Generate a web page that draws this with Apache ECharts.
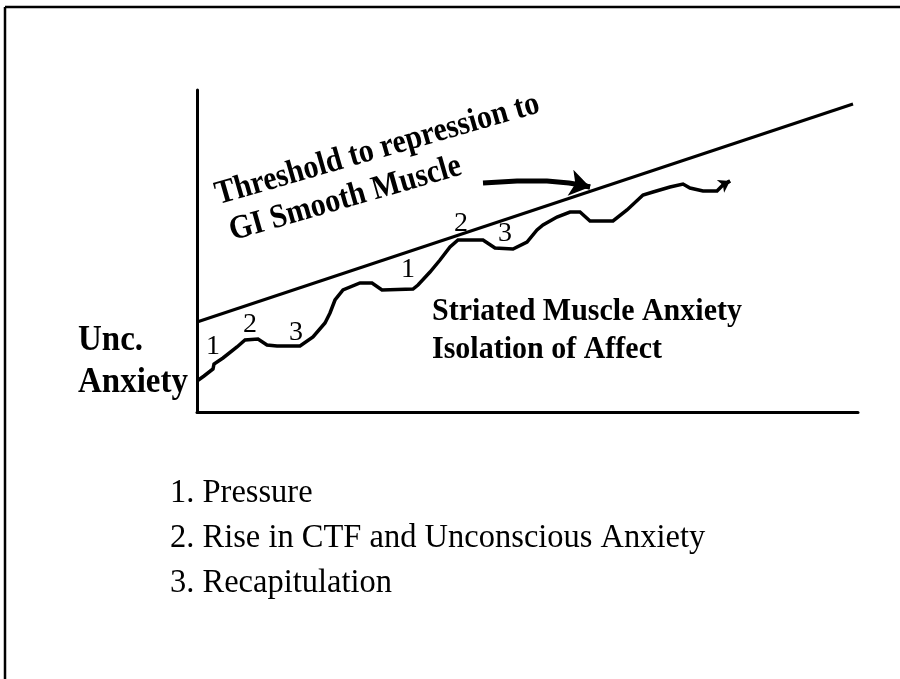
<!DOCTYPE html>
<html>
<head>
<meta charset="utf-8">
<style>
  html, body { margin: 0; padding: 0; background: #fff; }
  #chart { width: 900px; height: 679px; }
</style>
<script src="https://cdn.jsdelivr.net/npm/echarts@6/dist/echarts.min.js"></script>
</head>
<body>
<div id="chart"></div>
<script>
  // threshold line (straight)
  var thresholdX = [0, 656];
  var thresholdY = [90, 308];

  // anxiety curve
  var curveX = [0, 7, 16, 17, 26, 40, 48, 61, 70, 80, 103, 116, 128, 133, 138, 146, 163, 175, 185, 216, 221, 233, 243, 253, 261, 286, 298, 316, 330, 340, 346, 360, 373, 383, 393, 416, 430, 446, 456, 473, 486, 493, 506, 520, 526, 533];
  var curveY = [31, 36, 43, 48, 54, 65, 72, 73, 67, 66, 66, 75, 89, 99, 112, 122, 129, 129, 122, 123, 127, 140, 152, 165, 172, 172, 164, 163, 170, 182, 187, 195, 200, 200, 191, 191, 202, 217, 220, 225, 228, 224, 221, 221, 227, 231];

  // curved pointer toward the threshold
  var pointerX = [286, 320, 350, 372, 384, 393];
  var pointerY = [229, 231, 231, 229, 227, 225];

  // step numbers along the curve
  var stepLabels = ['1', '2', '3', '1', '2', '3'];
  var stepX = [16, 53, 99, 211, 264, 308];
  var stepY = [65, 87, 79, 142, 188, 178];

  var legendItems = ['1. Pressure', '2. Rise in CTF and Unconscious Anxiety', '3. Recapitulation'];

  function pairs(xs, ys) {
    var out = [];
    for (var i = 0; i < xs.length; i++) {
      out.push([xs[i], ys[i]]);
    }
    return out;
  }
  // last segment of a path, used to carry the arrow head
  function lastSeg(xs, ys) {
    var n = xs.length;
    return [[xs[n - 2], ys[n - 2]], [xs[n - 1], ys[n - 1]]];
  }

  var serif = '"Liberation Serif", "Times New Roman", serif';
  var rot = 16 * Math.PI / 180;

  var graphics = [
    {type: 'line', shape: {x1: 5, y1: 7, x2: 900, y2: 7}, style: {stroke: '#000', lineWidth: 2.5}},
    {type: 'line', shape: {x1: 5, y1: 7, x2: 5, y2: 679}, style: {stroke: '#000', lineWidth: 2.5}},
    {type: 'text', x: 78, y: 341, scaleY: 1.08, style: {text: 'Unc.', font: 'bold 33px ' + serif, fill: '#000', verticalAlign: 'middle'}},
    {type: 'text', x: 78, y: 383, scaleY: 1.08, style: {text: 'Anxiety', font: 'bold 33px ' + serif, fill: '#000', verticalAlign: 'middle'}},
    {type: 'text', x: 432, y: 312, scaleY: 1.08, style: {text: 'Striated Muscle Anxiety', font: 'bold 30px ' + serif, fill: '#000', verticalAlign: 'middle'}},
    {type: 'text', x: 432, y: 350, scaleY: 1.08, style: {text: 'Isolation of Affect', font: 'bold 30px ' + serif, fill: '#000', verticalAlign: 'middle'}},
    {type: 'text', x: 216, y: 196, rotation: rot, scaleY: 1.12, style: {text: 'Threshold to repression to', font: 'bold 30px ' + serif, fill: '#000', verticalAlign: 'middle'}},
    {type: 'text', x: 230, y: 232, rotation: rot, scaleY: 1.12, style: {text: 'GI Smooth Muscle', font: 'bold 30px ' + serif, fill: '#000', verticalAlign: 'middle'}}
  ];
  for (var k = 0; k < legendItems.length; k++) {
    graphics.push({type: 'text', x: 170, y: 493 + k * 45, scaleY: 1.05, style: {text: legendItems[k], font: '32.5px ' + serif, fill: '#000', verticalAlign: 'middle'}});
  }

  var myChart = echarts.init(document.getElementById('chart'));
  myChart.setOption({
    animation: false,
    backgroundColor: '#fff',
    grid: {left: 197, right: 42, top: 90, bottom: 267},
    xAxis: {
      type: 'value', min: 0, max: 661,
      axisLine: {show: true, lineStyle: {color: '#000', width: 3}},
      axisTick: {show: false}, axisLabel: {show: false}, splitLine: {show: false}
    },
    yAxis: {
      type: 'value', min: 0, max: 322,
      axisLine: {show: true, lineStyle: {color: '#000', width: 3}},
      axisTick: {show: false}, axisLabel: {show: false}, splitLine: {show: false}
    },
    graphic: graphics,
    series: [
      {
        name: 'threshold',
        type: 'line',
        data: pairs(thresholdX, thresholdY),
        showSymbol: false,
        lineStyle: {color: '#000', width: 3}
      },
      {
        name: 'anxiety',
        type: 'lines',
        coordinateSystem: 'cartesian2d',
        polyline: true,
        lineStyle: {color: '#000', width: 3.5, opacity: 1},
        data: [{coords: pairs(curveX, curveY)}]
      },
      {
        name: 'anxiety-head',
        type: 'lines',
        coordinateSystem: 'cartesian2d',
        symbol: ['none', 'arrow'],
        symbolSize: 11,
        lineStyle: {color: '#000', width: 3.5, opacity: 1},
        data: [{coords: lastSeg(curveX, curveY)}]
      },
      {
        name: 'pointer',
        type: 'lines',
        coordinateSystem: 'cartesian2d',
        polyline: true,
        lineStyle: {color: '#000', width: 5, opacity: 1},
        data: [{coords: pairs(pointerX, pointerY)}]
      },
      {
        name: 'pointer-head',
        type: 'lines',
        coordinateSystem: 'cartesian2d',
        symbol: ['none', 'arrow'],
        symbolSize: 20,
        lineStyle: {color: '#000', width: 5, opacity: 1},
        data: [{coords: lastSeg(pointerX, pointerY)}]
      },
      {
        name: 'steps',
        type: 'scatter',
        symbolSize: 0,
        itemStyle: {opacity: 1},
        data: stepX.map(function (x, i) { return {name: stepLabels[i], value: [x, stepY[i]]}; }),
        label: {
          show: true, position: 'inside', formatter: '{b}', opacity: 1,
          fontFamily: serif, fontSize: 28, color: '#000'
        }
      }
    ]
  });
</script>
</body>
</html>
